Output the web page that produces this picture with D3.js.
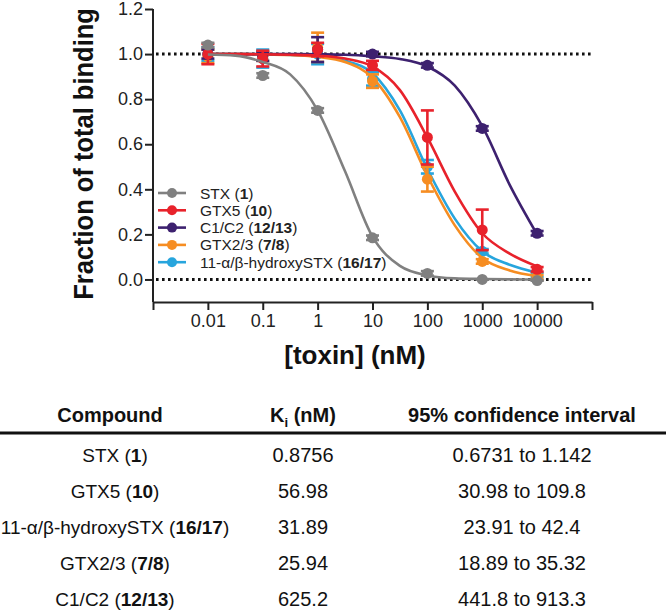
<!DOCTYPE html>
<html>
<head>
<meta charset="utf-8">
<script src="https://cdn.jsdelivr.net/npm/d3@7"></script>
<style>
    body { margin: 0; background: #fff; }
    svg { display: block; font-family: "Liberation Sans", Arial, sans-serif; }
</style>
</head>
<body>
<script>
//series names and compound numbers (number is shown in bold)
var seriesNames = ["STX", "GTX5", "C1/C2", "GTX2/3", "11-\u03b1/\u03b2-hydroxySTX"];
var seriesNums = ["1", "10", "12/13", "7/8", "16/17"];
var seriesColors = ["#808080", "#e8222b", "#3d216f", "#f68d22", "#27a5dd"];

//measured concentrations (nM)
var conc = [0.01, 0.1, 1, 10, 100, 1000, 10000];

//mean fraction of total binding, one array per series
var stxMean = [1.04, 0.905, 0.75, 0.185, 0.027, 0.0, -0.005];
var gtx5Mean = [1.0, 0.98, 1.02, 0.95, 0.63, 0.22, 0.045];
var c1c2Mean = [1.0, 0.99, 1.02, 1.0, 0.95, 0.67, 0.205];
var gtx23Mean = [0.99, 0.99, 1.03, 0.88, 0.445, 0.08, 0.01];
var hydroxyMean = [1.0, 0.98, 1.0, 0.89, 0.5, 0.125, 0.02];

//error bar half widths
var stxErr = [0.01, 0.01, 0.01, 0.01, 0.01, 0.0, 0.0];
var gtx5Err = [0.045, 0.035, 0.03, 0.02, 0.12, 0.09, 0.01];
var c1c2Err = [0.02, 0.02, 0.055, 0.01, 0.01, 0.01, 0.01];
var gtx23Err = [0.03, 0.02, 0.065, 0.03, 0.055, 0.01, 0.01];
var hydroxyErr = [0.03, 0.04, 0.045, 0.03, 0.03, 0.01, 0.01];

//fitted curves at half-decade steps
var curveConc = [0.01, 0.0316, 0.1, 0.316, 1, 3.16, 10, 31.6, 100, 316, 1000, 3162, 10000];
var stxFit = [0.998, 0.993, 0.965, 0.91, 0.75, 0.48, 0.19, 0.06, 0.018, 0.005, 0.002, 0.0005, 0.0];
var gtx5Fit = [1.0, 1.0, 0.999, 0.997, 0.993, 0.98, 0.945, 0.84, 0.63, 0.39, 0.205, 0.115, 0.058];
var c1c2Fit = [1.0, 1.0, 1.0, 1.0, 0.999, 0.997, 0.99, 0.978, 0.945, 0.86, 0.68, 0.42, 0.2];
var gtx23Fit = [1.0, 1.0, 0.999, 0.996, 0.988, 0.965, 0.895, 0.72, 0.46, 0.24, 0.095, 0.04, 0.015];
var hydroxyFit = [1.0, 1.0, 0.999, 0.996, 0.99, 0.97, 0.915, 0.75, 0.49, 0.27, 0.125, 0.065, 0.03];

//axis ticks
var xTicks = [0.001, 0.01, 0.1, 1, 10, 100, 1000, 10000, 100000];
var xTickLabels = ["", "0.01", "0.1", "1", "10", "100", "1000", "10000", ""];
var yTicks = [0.0, 0.2, 0.4, 0.6, 0.8, 1.0, 1.2];

//table rows (in the order of the picture)
var tableHeader = ["Compound", "K", "95% confidence interval"];
var tableNames = ["STX", "GTX5", "11-\u03b1/\u03b2-hydroxySTX", "GTX2/3", "C1/C2"];
var tableNums = ["1", "10", "16/17", "7/8", "12/13"];
var tableKi = ["0.8756", "56.98", "31.89", "25.94", "625.2"];
var tableCI = ["0.6731 to 1.142", "30.98 to 109.8", "23.91 to 42.4", "18.89 to 35.32", "441.8 to 913.3"];

var means = [stxMean, gtx5Mean, c1c2Mean, gtx23Mean, hydroxyMean];
var errs = [stxErr, gtx5Err, c1c2Err, gtx23Err, hydroxyErr];
var fits = [stxFit, gtx5Fit, c1c2Fit, gtx23Fit, hydroxyFit];

var width = 666, height = 613;
var axisColor = "#222";

var svg = d3.select("body").append("svg")
    .attr("width", width)
    .attr("height", height);

//scales
var x = d3.scaleLog().domain([0.001, 100000]).range([153, 592]);
var y = d3.scaleLinear().domain([-0.1, 1.2]).range([302, 9]);

//dotted reference lines at 0 and 1
[0, 1].forEach(function(v){
    svg.append("line")
        .attr("x1", 156).attr("x2", 594)
        .attr("y1", y(v)).attr("y2", y(v))
        .attr("stroke", "#111")
        .attr("stroke-width", 3)
        .attr("stroke-dasharray", "2.6,3.4");
});

//y axis
var yAxis = svg.append("g")
    .attr("transform", "translate(153,0)")
    .call(d3.axisLeft(y).tickValues(yTicks).tickFormat(d3.format(".1f")).tickSize(8).tickSizeOuter(0));
//x axis
var xAxis = svg.append("g")
    .attr("transform", "translate(0,302)")
    .call(d3.axisBottom(x).tickValues(xTicks).tickFormat(function(d, i){ return xTickLabels[i]; }).tickSize(8).tickSizeOuter(0));

[yAxis, xAxis].forEach(function(g){
    g.select(".domain").attr("stroke", axisColor).attr("stroke-width", 2);
    g.selectAll(".tick line").attr("stroke", axisColor).attr("stroke-width", 2);
    g.selectAll(".tick text")
        .attr("fill", axisColor)
        .style("font-size", "18px")
        .style("font-family", "Liberation Sans, Arial, sans-serif");
});
yAxis.select(".domain").attr("d", "M0,9V302");
yAxis.selectAll(".tick text").attr("x", -10);
xAxis.selectAll(".tick text").attr("y", 12);

//axis titles (y title drawn a bit thicker than wide, like the original)
svg.append("text")
    .attr("transform", "translate(93,154) rotate(-90) scale(1,1.1)")
    .attr("text-anchor", "middle")
    .style("font-size", "25.5px")
    .style("font-weight", "bold")
    .attr("fill", "#111")
    .text("Fraction of total binding");

svg.append("text")
    .attr("x", 355).attr("y", 364)
    .attr("text-anchor", "middle")
    .style("font-size", "26px")
    .style("font-weight", "bold")
    .attr("fill", "#111")
    .text("[toxin] (nM)");

//curves, points and error bars; first series drawn last so it sits on top
var line = d3.line()
    .x(function(d){ return x(d[0]); })
    .y(function(d){ return y(d[1]); })
    .curve(d3.curveMonotoneX);

var order = [4, 3, 2, 1, 0];
order.forEach(function(s){
    var color = seriesColors[s];
    var g = svg.append("g").attr("class", "series");

    g.append("path")
        .datum(curveConc.map(function(c, i){ return [c, fits[s][i]]; }))
        .attr("d", line)
        .attr("fill", "none")
        .attr("stroke", color)
        .attr("stroke-width", 2.6);

    var pts = conc.map(function(c, i){ return {c: c, m: means[s][i], e: errs[s][i]}; });

    var bars = g.selectAll(".bar")
        .data(pts)
        .enter()
        .append("g")
        .attr("class", "bar")
        .attr("transform", function(d){ return "translate(" + x(d.c) + ",0)"; });
    bars.append("line")
        .attr("y1", function(d){ return y(d.m - d.e); })
        .attr("y2", function(d){ return y(d.m + d.e); })
        .attr("stroke", color).attr("stroke-width", 2.6);
    [-1, 1].forEach(function(sign){
        bars.append("line")
            .attr("x1", -6.5).attr("x2", 6.5)
            .attr("y1", function(d){ return y(d.m + sign * d.e); })
            .attr("y2", function(d){ return y(d.m + sign * d.e); })
            .attr("stroke", color).attr("stroke-width", 2.6);
    });

    g.selectAll(".pt")
        .data(pts)
        .enter()
        .append("circle")
        .attr("class", "pt")
        .attr("cx", function(d){ return x(d.c); })
        .attr("cy", function(d){ return y(d.m); })
        .attr("r", 5.5)
        .attr("fill", color);
});

//legend
var legend = svg.append("g").attr("class", "legend");
seriesNames.forEach(function(name, i){
    var ly = 193 + i * 17.3;
    legend.append("line")
        .attr("x1", 158).attr("x2", 186)
        .attr("y1", ly).attr("y2", ly)
        .attr("stroke", seriesColors[i]).attr("stroke-width", 2.6);
    legend.append("circle")
        .attr("cx", 172).attr("cy", ly).attr("r", 5)
        .attr("fill", seriesColors[i]);
    var t = legend.append("text")
        .attr("x", 200).attr("y", ly + 5.5)
        .attr("fill", "#222")
        .style("font-size", "15.5px");
    t.append("tspan").text(name + " (");
    t.append("tspan").style("font-weight", "bold").text(seriesNums[i]);
    t.append("tspan").text(")");
});

//table
var colX = [110, 303, 522];
var table = svg.append("g").attr("class", "table");
var header = table.append("g").style("font-weight", "bold").style("font-size", "20px").attr("fill", "#111");
header.append("text").attr("x", colX[0]).attr("y", 422).attr("text-anchor", "middle").text(tableHeader[0]);
var kiHead = header.append("text").attr("x", colX[1]).attr("y", 422).attr("text-anchor", "middle");
kiHead.append("tspan").text(tableHeader[1]);
kiHead.append("tspan").attr("dy", 5).style("font-size", "13px").text("i");
kiHead.append("tspan").attr("dy", -5).text(" (nM)");
header.append("text").attr("x", colX[2]).attr("y", 422).attr("text-anchor", "middle").text(tableHeader[2]);

table.append("line")
    .attr("x1", 0).attr("x2", width)
    .attr("y1", 433).attr("y2", 433)
    .attr("stroke", "#111").attr("stroke-width", 3);

tableNames.forEach(function(name, i){
    var ty = 462 + i * 36;
    var t = table.append("text")
        .attr("x", 115).attr("y", ty)
        .attr("text-anchor", "middle")
        .attr("fill", "#111")
        .style("font-size", "19px");
    t.append("tspan").text(name + " (");
    t.append("tspan").style("font-weight", "bold").text(tableNums[i]);
    t.append("tspan").text(")");
    table.append("text")
        .attr("x", colX[1]).attr("y", ty)
        .attr("text-anchor", "middle")
        .attr("fill", "#111")
        .style("font-size", "20px")
        .text(tableKi[i]);
    table.append("text")
        .attr("x", colX[2]).attr("y", ty)
        .attr("text-anchor", "middle")
        .attr("fill", "#111")
        .style("font-size", "20px")
        .text(tableCI[i]);
});
</script>
</body>
</html>
